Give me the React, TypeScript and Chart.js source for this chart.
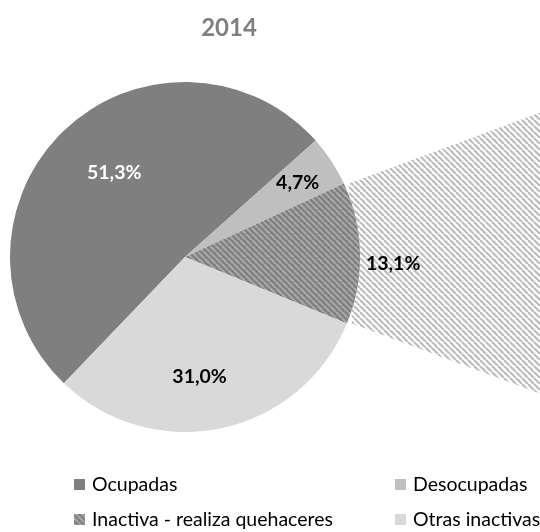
import React, { useEffect, useRef } from "react";
import { Chart, registerables } from "chart.js";

Chart.register(...registerables);

const titleText = "2014";
const categories = ["Ocupadas", "Desocupadas", "Inactiva - realiza quehaceres", "Otras inactivas"];
const values = [51.3, 4.7, 13.1, 31.0];
const valueLabels = ["51,3%", "4,7%", "13,1%", "31,0%"];

const FONT = "Lato, 'Open Sans', sans-serif";

function makeStripe(bg: string, fg: string, lw: number): CanvasPattern | string {
  const t = document.createElement("canvas");
  t.width = 6;
  t.height = 6;
  const c = t.getContext("2d");
  if (!c) return bg;
  c.fillStyle = bg;
  c.fillRect(0, 0, 6, 6);
  c.strokeStyle = fg;
  c.lineWidth = lw;
  for (const off of [-6, 0, 6]) {
    c.beginPath();
    c.moveTo(off, 0);
    c.lineTo(off + 6, 6);
    c.stroke();
  }
  const p = c.createPattern(t, "repeat");
  return p || bg;
}

export default function App() {
  const ref = useRef<HTMLCanvasElement | null>(null);

  useEffect(() => {
    document.body.style.margin = "0";
    const canvas = ref.current;
    if (!canvas) return;

    const darkHatch = makeStripe("#7f7f7f", "#a8a8a8", 2.2);
    const lightHatch = makeStripe("#ffffff", "#bdbdbd", 2.2);
    const colors = ["#7f7f7f", "#bfbfbf", darkHatch, "#d9d9d9"];
    const labelColors = ["#ffffff", "#000000", "#000000", "#000000"];
    const labelRadius = [0.63, 0.77, 1.19, 0.69];
    const labelNudgeDeg = [4, 0, 3, 5];

    const fanPlugin = {
      id: "fan",
      beforeDatasetsDraw(chart: any) {
        const meta = chart.getDatasetMeta(0);
        const arc = meta.data[2];
        if (!arc) return;
        const { x, y, startAngle, endAngle, outerRadius } = arc.getProps(
          ["x", "y", "startAngle", "endAngle", "outerRadius"],
          true
        );
        const ctx = chart.ctx;
        const p1x = x + outerRadius * Math.cos(startAngle);
        const p1y = y + outerRadius * Math.sin(startAngle);
        const p2x = x + outerRadius * Math.cos(endAngle);
        const p2y = y + outerRadius * Math.sin(endAngle);
        const spread = (20 * Math.PI) / 180;
        const far = chart.width + 20;
        const up = { x: far, y: p1y - Math.tan(spread) * (far - p1x) };
        const dn = { x: far, y: p2y + Math.tan(spread) * (far - p2x) };
        ctx.save();
        ctx.beginPath();
        ctx.moveTo(p1x + 5, p1y);
        ctx.lineTo(up.x, up.y);
        ctx.lineTo(dn.x, dn.y);
        ctx.lineTo(p2x + 5, p2y);
        ctx.closePath();
        ctx.fillStyle = lightHatch as any;
        ctx.fill();
        ctx.restore();
      },
    };

    const labelsPlugin = {
      id: "texts",
      afterDatasetsDraw(chart: any) {
        const ctx = chart.ctx;
        const meta = chart.getDatasetMeta(0);
        ctx.save();
        ctx.textAlign = "center";
        ctx.textBaseline = "middle";
        ctx.font = `bold 19.5px ${FONT}`;
        meta.data.forEach((arc: any, i: number) => {
          const { x, y, startAngle, endAngle, outerRadius } = arc.getProps(
            ["x", "y", "startAngle", "endAngle", "outerRadius"],
            true
          );
          const mid = (startAngle + endAngle) / 2 + (labelNudgeDeg[i] * Math.PI) / 180;
          const r = outerRadius * labelRadius[i];
          ctx.fillStyle = labelColors[i];
          ctx.fillText(valueLabels[i], x + r * Math.cos(mid), y + r * Math.sin(mid));
        });
        // title
        ctx.fillStyle = "#7f7f7f";
        ctx.font = `bold 24px ${FONT}`;
        ctx.fillText(titleText, 229, 28);
        // legend
        const cols = [74, 395];
        const rows = [484, 519];
        ctx.textAlign = "left";
        ctx.font = `19.5px ${FONT}`;
        categories.forEach((c, i) => {
          const bx = cols[i % 2];
          const by = rows[Math.floor(i / 2)];
          ctx.fillStyle = colors[i] as any;
          ctx.fillRect(bx, by - 5, 11, 11);
          ctx.fillStyle = "#000000";
          ctx.fillText(c, bx + 18, by + 1);
        });
        ctx.restore();
      },
    };

    const chart = new Chart(canvas, {
      type: "pie",
      data: {
        labels: categories,
        datasets: [
          {
            data: values,
            backgroundColor: colors as any,
            borderWidth: 0,
          },
        ],
      },
      options: {
        animation: false,
        responsive: false,
        rotation: 223.8,
        layout: { padding: { left: 10, right: 180, top: 82, bottom: 100 } },
        plugins: {
          legend: { display: false },
          title: { display: false },
          tooltip: { enabled: false },
        },
      },
      plugins: [fanPlugin, labelsPlugin],
    });

    return () => chart.destroy();
  }, []);

  return (
    <div style={{ width: 540, height: 532, position: "relative" }}>
      <canvas ref={ref} width={540} height={532} />
    </div>
  );
}
